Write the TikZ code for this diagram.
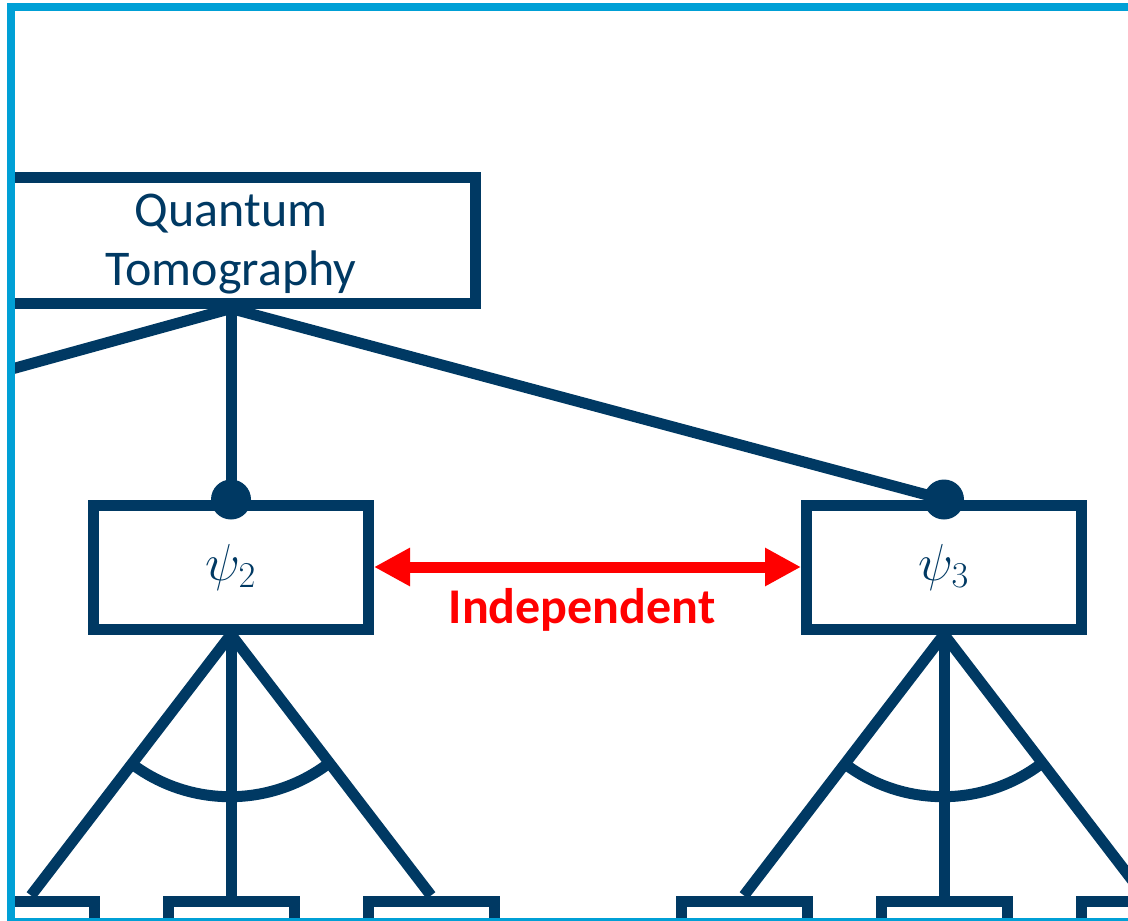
\RequirePackage{fix-cm}
\documentclass[tikz,border=0pt]{standalone}
\usepackage{fontspec}
\setmainfont{Carlito}
\usetikzlibrary{arrows.meta,calc,positioning}
\definecolor{navy}{RGB}{0,57,99}
\definecolor{frameblue}{RGB}{0,160,214}
\tikzset{
  qbox/.style={draw=navy, line width=5.5pt, fill=white, text=navy, inner sep=0pt},
  psibox/.style={qbox, minimum width=137.5pt, minimum height=62pt, font=\fontsize{26}{31}\selectfont},
  leafbox/.style={qbox, minimum width=63pt, minimum height=40pt},
  tree/.style={navy, line width=5.5pt},
  indarrow/.style={red, line width=5.5pt, {Triangle[length=18pt,width=18pt]}-{Triangle[length=18pt,width=18pt]}},
  indep/.style={text=red, font=\fontsize{25}{30}\selectfont\bfseries},
}

\begin{document}
\begin{tikzpicture}[x=0.5pt, y=-0.5pt]
    \useasboundingbox (0,0) rectangle (1128,920);

    \begin{scope}
    \clip (11,7) rectangle (1200,922);

    % Top node
    \node[qbox, minimum width=244pt, minimum height=63pt, align=center,
          font=\fontsize{25}{29.5}\selectfont] (qt) at (231,240) {\rule{0pt}{20pt}Quantum\\Tomography};
    \coordinate (psi1) at (-300,455);

    % Second level
    \node[psibox] (psi2) at (231,567) {$\psi_2$};
    \node[psibox] (psi3) at (944,567) {$\psi_3$};

    % Leaves
    \node[leafbox] (c21) at (31,941) {};
    \node[leafbox] (c22) at (231,941) {};
    \node[leafbox] (c23) at (431,941) {};
    \node[leafbox] (c31) at (744,941) {};
    \node[leafbox] (c32) at (944,941) {};
    \node[leafbox] (c33) at (1144,941) {};

    % Edges from the top node
    \draw[tree] (qt.south) -- (psi1);
    \draw[tree] (qt.south) -- (psi2.north);
    \draw[tree] (qt.south) -- (psi3.north);
    \fill[navy] (psi2.north) circle (10pt);
    \fill[navy] (psi3.north) circle (10pt);

    % Subtrees with AND arcs
    \foreach \p in {2,3} {
        \foreach \c in {1,2,3}
            \draw[tree] (psi\p.south) -- (c\p\c.north);
        \draw[tree] ($(psi\p.south)!81.5pt!(c\p1.north)$) arc[start angle=233, end angle=307, radius=81.5pt];
    }

    % Independence
    \draw[indarrow] (psi2) -- (psi3);
    \node[indep, anchor=base] (indlbl) at (582,623) {Independent};
    \end{scope}

    % Frame
    \draw[frameblue, line width=4pt] (11,7) rectangle (1140,922);
\end{tikzpicture}
\end{document}
